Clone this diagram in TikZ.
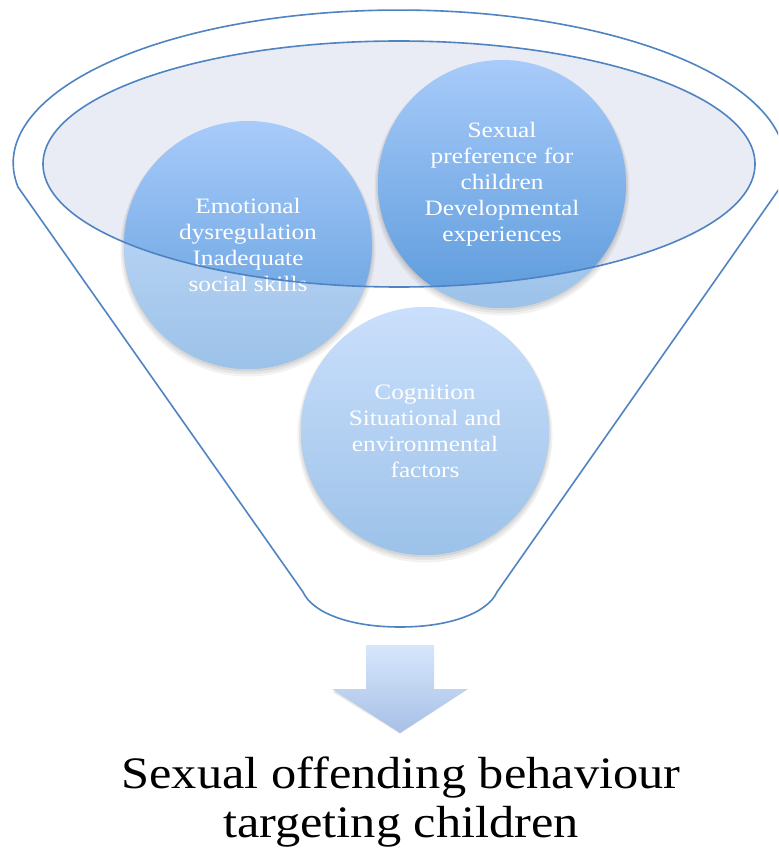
\documentclass[tikz,border=0pt]{standalone}
\usepackage{fontspec}
\setmainfont{Liberation Serif}
\newfontfamily\circfont[FakeStretch=1.15]{Liberation Serif}
\newfontfamily\bigfont[FakeStretch=1.12]{Liberation Serif}
\definecolor{edge}{HTML}{4F83C2}
\definecolor{ellfill}{HTML}{E9ECF4}
\definecolor{ctop}{HTML}{A8CBFA}
\definecolor{cbot}{HTML}{5B9ADB}
\definecolor{atop}{HTML}{D6E6FC}
\definecolor{abot}{HTML}{A8C0E6}
\tikzset{
  circ/.style={circle, minimum size=248pt, inner sep=0pt, top color=ctop, bottom color=cbot,
    text=white, align=center, font=\circfont\fontsize{22}{26}\selectfont},
  funnel/.style={draw=edge, line width=1.6pt, line join=round},
  csh/.style={fill=black}
}
\begin{document}
\begin{tikzpicture}[x=1pt,y=-1pt]
\useasboundingbox (0,0) rectangle (778,850);
\clip (0,0) rectangle (778,850);
% inner ellipse fill
\fill[ellfill] (399,164) ellipse [x radius=356, y radius=123];
% circle positions
\coordinate (p1) at (248,245);
\coordinate (p2) at (502,184);
\coordinate (p3) at (425,431);
% soft shadows
\foreach \p in {p1,p2,p3}{
  \fill[csh, opacity=0.05] ([yshift=-4pt]\p) circle (127.5);
  \fill[csh, opacity=0.06] ([yshift=-3pt]\p) circle (126);
  \fill[csh, opacity=0.07] ([yshift=-2pt]\p) circle (124.5);
}
% circles
\node[circ] (c1) at (p1) {Emotional\\dysregulation\\Inadequate\\social skills};
\node[circ] (c2) at (p2) {Sexual\\preference for\\children\\Developmental\\experiences};
\node[circ] (c3) at (p3) {Cognition\\Situational and\\environmental\\factors};
% lighten the parts outside the inner ellipse
\begin{scope}
\clip (c1.center) circle (124) (c2.center) circle (124) (c3.center) circle (124);
\fill[white, fill opacity=0.4, even odd rule] (-10,-10) rectangle (800,860) (399,164) ellipse [x radius=356, y radius=123];
\end{scope}
% inner ellipse outline
\draw[funnel] (399,164) ellipse [x radius=356, y radius=123];
% funnel outline
\draw[funnel] (18,187) arc[start angle=171, end angle=369, x radius=386, y radius=153]
  -- (497,592) .. controls (488,612) and (452,627) .. (400,627)
  .. controls (348,627) and (312,612) .. (303,592) -- cycle;
% arrow
\coordinate (a0) at (400,645);
\fill[black, opacity=0.06] ([yshift=-3pt]332,689) -- (400,734) -- (468,689) -- cycle;
\fill[black, opacity=0.08] ([yshift=-2pt]333,689) -- (400,733) -- (467,689) -- cycle;
\shade[top color=atop, bottom color=abot] (366,645) -- (434,645) -- (434,689) -- (468,689)
  -- (400,733) -- (332,689) -- (366,689) -- cycle;
% result text
\node[inner sep=0pt, align=center, font=\bigfont\fontsize{45}{49}\selectfont] (out) at (401,802)
  {Sexual offending behaviour\\targeting children};
\end{tikzpicture}
\end{document}
